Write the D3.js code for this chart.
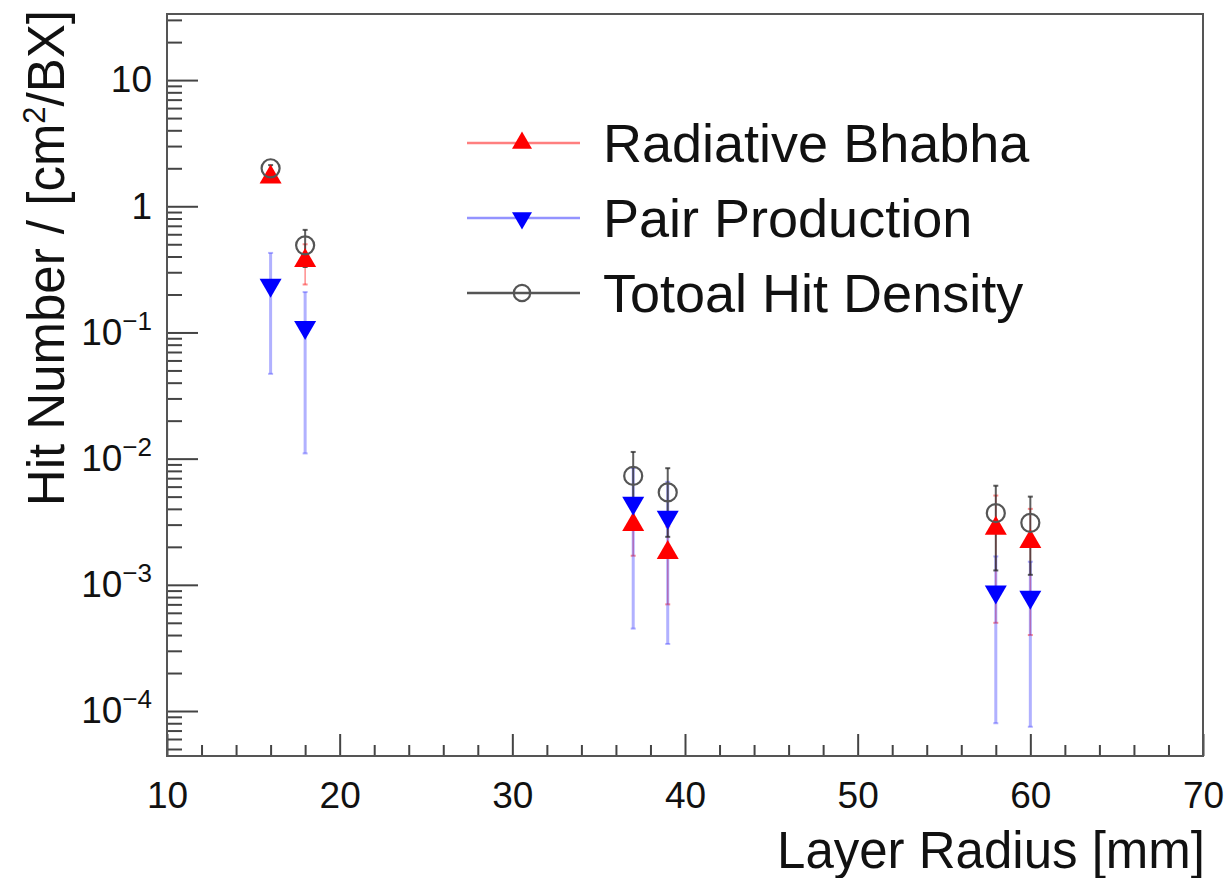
<!DOCTYPE html>
<html>
<head>
<meta charset="utf-8">
<script src="https://cdn.jsdelivr.net/npm/d3@7"></script>
<style>
  html, body { margin: 0; padding: 0; background: #fff; }
  svg { display: block; font-family: "Liberation Sans", Arial, Helvetica, sans-serif; }
</style>
</head>
<body>
<div id="container"></div>
<script>
// layer radii [mm]
const radius     = [16, 18, 37, 39, 58, 60];
// hit densities [cm^-2 / BX] and their errors
const bhabha     = [1.70, 0.37, 0.0030, 0.0018, 0.0028, 0.0022];
const bhabhaErr  = [0.10, 0.13, 0.0013, 0.0011, 0.0023, 0.0018];
const pair       = [0.237, 0.110, 0.00445, 0.00344, 0.00088, 0.00080];
const pairErr    = [0.19, 0.099, 0.0040, 0.0031, 0.0008, 0.000725];
const total      = [2.0, 0.49, 0.0073, 0.0054, 0.0037, 0.0031];
const totalErr   = [0.12, 0.16, 0.0040, 0.0030, 0.0024, 0.0019];

const xTicks     = [10, 20, 30, 40, 50, 60, 70];
const yDecades   = [1e-4, 1e-3, 1e-2, 1e-1, 1, 10];
const yTickText  = [["10", "\u22124"], ["10", "\u22123"], ["10", "\u22122"], ["10", "\u22121"], ["1", null], ["10", null]];
const seriesNames = ["Radiative Bhabha", "Pair Production", "Totoal Hit Density"];

const width  = 1231;
const height = 878;
const margin = { top: 14, right: 28, bottom: 122, left: 167 };

const svg = d3.select("#container")
  .append("svg")
    .attr("width", width)
    .attr("height", height);

const x = d3.scaleLinear()
  .domain([10, 70])
  .range([margin.left, width - margin.right]);

const y = d3.scaleLog()
  .domain([4.4e-5, 33.4])
  .range([height - margin.bottom, margin.top]);

const axisColor = "#444";
const fontAxis  = 37;

// minor ticks
const yMinor = [];
for (let e = -5; e <= 1; e++) {
  for (let m = 2; m <= 9; m++) {
    const v = m * Math.pow(10, e);
    if (v >= y.domain()[0] && v <= y.domain()[1]) yMinor.push(v);
  }
}
const xMinor = d3.range(10, 70.01, 2).filter(v => v % 10 !== 0);

svg.append("g")
  .attr("transform", `translate(${margin.left},0)`)
  .call(d3.axisLeft(y).tickValues(yMinor).tickFormat("").tickSizeInner(-15).tickSizeOuter(0))
  .call(g => g.select(".domain").remove())
  .call(g => g.selectAll("line").attr("stroke", axisColor).attr("stroke-width", 2));

svg.append("g")
  .attr("transform", `translate(0,${height - margin.bottom})`)
  .call(d3.axisBottom(x).tickValues(xMinor).tickFormat("").tickSizeInner(-11).tickSizeOuter(0))
  .call(g => g.select(".domain").remove())
  .call(g => g.selectAll("line").attr("stroke", axisColor).attr("stroke-width", 2));

// major y axis
const yAxisG = svg.append("g")
  .attr("transform", `translate(${margin.left},0)`)
  .call(d3.axisLeft(y).tickValues(yDecades).tickSizeInner(-31).tickSizeOuter(0).tickPadding(15))
  .call(g => g.select(".domain").remove())
  .call(g => g.selectAll("line").attr("stroke", axisColor).attr("stroke-width", 2));

yAxisG.selectAll(".tick text")
  .attr("font-size", fontAxis)
  .attr("font-family", "Liberation Sans, Arial, sans-serif")
  .attr("fill", "#111")
  .each(function(d) {
    const t = d3.select(this).text("");
    const parts = yTickText[yDecades.indexOf(d)];
    t.append("tspan").text(parts[0]);
    if (parts[1]) {
      t.append("tspan")
        .attr("font-size", 26)
        .attr("dy", -15)
        .text(parts[1]);
    }
  });

// major x axis
svg.append("g")
  .attr("transform", `translate(0,${height - margin.bottom})`)
  .call(d3.axisBottom(x).tickValues(xTicks).tickSizeInner(-22).tickSizeOuter(0).tickPadding(26).tickFormat(d3.format("d")))
  .call(g => g.select(".domain").remove())
  .call(g => g.selectAll("line").attr("stroke", axisColor).attr("stroke-width", 2))
  .call(g => g.selectAll("text")
    .attr("font-size", fontAxis)
    .attr("font-family", "Liberation Sans, Arial, sans-serif")
    .attr("fill", "#111"));

// frame
svg.append("rect")
  .attr("x", margin.left)
  .attr("y", margin.top)
  .attr("width", width - margin.right - margin.left)
  .attr("height", height - margin.bottom - margin.top)
  .attr("fill", "none")
  .attr("stroke", "#555")
  .attr("stroke-width", 2);

// axis titles
svg.append("text")
  .attr("x", width - margin.right + 2)
  .attr("y", 868)
  .attr("text-anchor", "end")
  .attr("font-size", 51)
  .attr("fill", "#111")
  .text("Layer Radius [mm]");

const yTitle = svg.append("text")
  .attr("transform", "translate(64,10) rotate(-90)")
  .attr("text-anchor", "end")
  .attr("font-size", 51)
  .attr("fill", "#111");
yTitle.append("tspan").text("Hit Number / [cm");
yTitle.append("tspan").attr("font-size", 31).attr("dy", -19).text("2");
yTitle.append("tspan").attr("dy", 19).text("/BX]");

// series setup
const series = [
  { name: seriesNames[0], vals: bhabha, errs: bhabhaErr, color: "#ff0000",
    errColor: "rgba(255,0,0,0.45)", errWidth: 1.5, marker: "up" },
  { name: seriesNames[1], vals: pair, errs: pairErr, color: "#0000ff",
    errColor: "rgba(60,60,255,0.4)", errWidth: 3, marker: "down" },
  { name: seriesNames[2], vals: total, errs: totalErr, color: "#555",
    errColor: "rgba(40,40,40,0.75)", errWidth: 2, marker: "circle" }
];

const plot = svg.append("g");

// error bars
series.forEach(s => {
  const pts = radius.map((r, i) => ({ r, v: s.vals[i], e: s.errs[i] }));
  const g = plot.append("g");
  g.selectAll("line.err")
    .data(pts)
    .join("line")
      .attr("x1", d => x(d.r))
      .attr("x2", d => x(d.r))
      .attr("y1", d => y(Math.max(d.v - d.e, y.domain()[0])))
      .attr("y2", d => y(d.v + d.e))
      .attr("stroke", s.errColor)
      .attr("stroke-width", s.errWidth);
  ["lo", "hi"].forEach(k => {
    g.selectAll("line.cap-" + k)
      .data(pts)
      .join("line")
        .attr("x1", d => x(d.r) - 2.5)
        .attr("x2", d => x(d.r) + 2.5)
        .attr("y1", d => y(k === "lo" ? d.v - d.e : d.v + d.e))
        .attr("y2", d => y(k === "lo" ? d.v - d.e : d.v + d.e))
        .attr("stroke", s.errColor)
        .attr("stroke-width", 2);
  });
});

function drawMarker(g, kind, color, size) {
  if (kind === "circle") {
    return g.append("circle")
      .attr("r", size * 0.41)
      .attr("fill", "none")
      .attr("stroke", color)
      .attr("stroke-width", 2.2);
  }
  const area = Math.sqrt(3) / 4 * size * size;
  return g.append("path")
    .attr("d", d3.symbol(d3.symbolTriangle, area)())
    .attr("transform", kind === "down" ? "rotate(180)" : null)
    .attr("fill", color);
}

// markers
series.forEach(s => {
  radius.forEach((r, i) => {
    const g = plot.append("g")
      .attr("transform", `translate(${x(r)},${y(s.vals[i])})`);
    drawMarker(g, s.marker, s.color, 22);
  });
});

// legend
const legendY = [143, 218, 293];
const legendLineColor = ["rgba(255,0,0,0.5)", "rgba(40,40,255,0.5)", "#555"];
const legend = svg.append("g");
series.forEach((s, i) => {
  const g = legend.append("g").attr("transform", `translate(0,${legendY[i]})`);
  g.append("line")
    .attr("x1", 467).attr("x2", 580)
    .attr("stroke", legendLineColor[i])
    .attr("stroke-width", 2.5);
  const m = g.append("g").attr("transform", "translate(522,0)");
  drawMarker(m, s.marker, s.color, 20);
  g.append("text")
    .attr("x", 603)
    .attr("y", 19)
    .attr("font-size", 54)
    .attr("fill", "#111")
    .text(s.name);
});
</script>
</body>
</html>
